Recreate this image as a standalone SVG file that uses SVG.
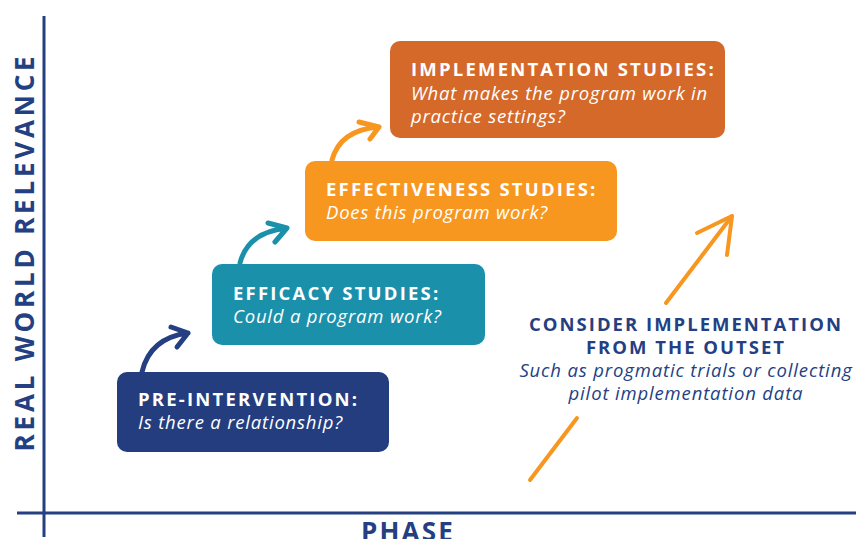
<svg xmlns="http://www.w3.org/2000/svg" width="856" height="539" viewBox="0 0 856 539">
<style>
.t{font-family:"Open Sans","Liberation Sans",sans-serif;font-weight:700;font-size:18.5px;letter-spacing:2.2px;fill:#fff}
.s{font-family:"Open Sans","Liberation Sans",sans-serif;font-style:italic;font-weight:400;font-size:18.5px;letter-spacing:0.8px;fill:#fff}
.ax{stroke:#243f82;stroke-width:3;fill:none}
.axl{font-family:"Open Sans","Liberation Sans",sans-serif;font-weight:700;font-size:26px;letter-spacing:3.8px;fill:#243f82;text-anchor:middle}
.ph{font-family:"Open Sans","Liberation Sans",sans-serif;font-weight:700;font-size:26px;letter-spacing:2.2px;fill:#243f82;text-anchor:middle}
.arr{fill:none;stroke-width:5;stroke-linecap:round;stroke-linejoin:round}
.nt{font-family:"Open Sans","Liberation Sans",sans-serif;font-weight:700;font-size:18.5px;letter-spacing:2px;fill:#243f82;text-anchor:middle}
.ns{font-family:"Open Sans","Liberation Sans",sans-serif;font-style:italic;font-size:18.5px;letter-spacing:0.85px;fill:#243f82;text-anchor:middle}
</style>
<rect width="856" height="539" fill="#fff"/>
<g id="axes">
<line class="ax" x1="44" y1="16" x2="44" y2="537"/>
<line class="ax" x1="17" y1="513" x2="856" y2="513"/>
<text class="axl" transform="translate(34,252) rotate(-90)">REAL WORLD RELEVANCE</text>
<text class="ph" x="408" y="541">PHASE</text>
</g>
<g id="connectors">
<path class="arr" stroke="#243f82" d="M142,372 Q150,338 188,333 M171,327 L188,333 L177,347"/>
<path class="arr" stroke="#1a90ab" d="M240,263 Q248,232 287,228 M268,223 L287,228 L275,242"/>
<path class="arr" stroke="#f7971f" d="M332,160 Q340,130 379,127 M359,122 L379,127 L370,139"/>
<g stroke="#f7971f" stroke-width="4" stroke-linecap="round" fill="none" stroke-linejoin="round">
<line x1="530" y1="480" x2="577" y2="418"/>
<line x1="666" y1="303" x2="732" y2="216"/>
<polyline points="697,233 732,216 727,255"/>
</g>
</g>
<g id="pre">
<rect x="117" y="372" width="272" height="80" rx="10" fill="#233d7f"/>
<text class="t" x="138" y="406">PRE-INTERVENTION:</text>
<text class="s" x="138" y="429">Is there a relationship?</text>
</g>
<g id="efficacy">
<rect x="212" y="264" width="273" height="81" rx="10" fill="#1a90ab"/>
<text class="t" x="233" y="300">EFFICACY STUDIES:</text>
<text class="s" x="233" y="323">Could a program work?</text>
</g>
<g id="effectiveness">
<rect x="305" y="161" width="312" height="80" rx="10" fill="#f7971f"/>
<text class="t" x="326" y="196">EFFECTIVENESS STUDIES:</text>
<text class="s" x="326" y="219">Does this program work?</text>
</g>
<g id="implementation">
<rect x="390" y="41" width="335" height="97" rx="10" fill="#d4692a"/>
<text class="t" x="411" y="76">IMPLEMENTATION STUDIES:</text>
<text class="s" x="411" y="100">What makes the program work in</text>
<text class="s" x="411" y="123">practice settings?</text>
</g>
<g id="consider">
<text class="nt" x="686" y="331">CONSIDER IMPLEMENTATION</text>
<text class="nt" x="686" y="354">FROM THE OUTSET</text>
<text class="ns" x="686" y="377">Such as progmatic trials or collecting</text>
<text class="ns" x="686" y="400">pilot implementation data</text>
</g>
</svg>
